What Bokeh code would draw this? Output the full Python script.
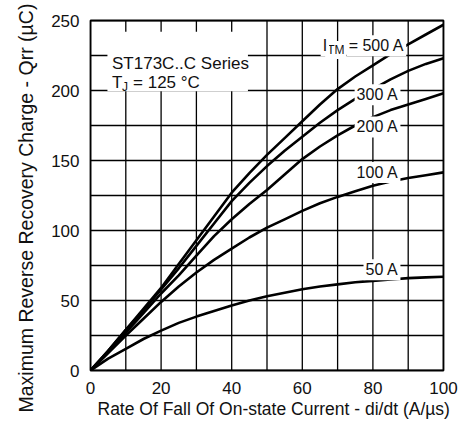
from bokeh.plotting import figure
from bokeh.models import Range1d, FixedTicker, Label, BoxAnnotation, ColumnDataSource, Title
from bokeh.embed import file_html
from bokeh.resources import INLINE

# di/dt (A/us)
didt = [0, 5, 10, 15, 20, 25, 30, 35, 40, 45, 50, 55, 60, 65, 70, 75, 80, 85, 90, 95, 100]
# Qrr (uC) for each I_TM
q_500 = [0, 14, 29, 44, 59, 76, 93, 110, 127, 141, 154, 166, 178, 190, 201, 210, 218, 226, 233, 240, 247]
q_300 = [0, 14, 29, 43, 58, 73, 89, 105, 121, 134, 146, 157, 167, 177, 186, 194, 201, 208, 214, 219, 223]
q_200 = [0, 13, 27, 41, 55, 68, 82, 96, 108, 119, 129, 140, 151, 160, 168, 175, 181, 186, 190, 194, 198]
q_100 = [0, 12.5, 25, 37, 49, 60, 70, 79, 87, 95, 102, 108, 114, 119.5, 124, 128, 132, 135, 137.5, 139.5, 141.5]
q_50 = [0, 8.5, 15.5, 22.5, 28.5, 34, 38.5, 42.5, 46.5, 50, 53, 55.5, 58, 60, 61.5, 63, 64, 65, 66, 66.5, 67]

x_ticks = [0, 20, 40, 60, 80, 100]
y_ticks = [0, 50, 100, 150, 200, 250]
x_grid = [0, 10, 20, 30, 40, 50, 60, 70, 80, 90, 100]
y_grid = [0, 25, 50, 75, 100, 125, 150, 175, 200, 225, 250]

X_MIN, X_MAX = 0, 100
Y_MIN, Y_MAX = 0, 250

FONT = "Liberation Sans"
TXT = "#111111"

p = figure(width=459, height=439, output_backend="svg", toolbar_location=None,
           x_range=Range1d(X_MIN, X_MAX), y_range=Range1d(Y_MIN, Y_MAX),
           min_border_left=90, min_border_right=16, min_border_top=20, min_border_bottom=69)

p.background_fill_color = "white"
p.border_fill_color = "white"
p.outline_line_color = "black"
p.outline_line_width = 1.8
p.grid.visible = False

for ax in (p.xaxis[0], p.yaxis[0]):
    ax.major_tick_line_color = None
    ax.minor_tick_line_color = None
    ax.major_tick_in = 0
    ax.major_tick_out = 0
    ax.minor_tick_in = 0
    ax.minor_tick_out = 0
    ax.axis_line_color = None
    ax.major_label_text_font = FONT
    ax.major_label_text_font_size = "17px"
    ax.major_label_text_color = TXT

p.xaxis.ticker = FixedTicker(ticks=x_ticks)
p.yaxis.ticker = FixedTicker(ticks=y_ticks)
p.xaxis.major_label_standoff = 11
p.yaxis.major_label_standoff = 11

# axis titles
p.add_layout(Title(text="Rate Of Fall Of On-state Current - di/dt (A/\u00b5s)", align="left",
                   offset=7, standoff=0, text_font=FONT, text_font_size="17.5px",
                   text_font_style="normal", text_color=TXT), "below")
p.add_layout(Title(text="Maximum Reverse Recovery Charge - Qrr (\u00b5C)", align="left",
                   offset=-42, standoff=23, text_font=FONT, text_font_size="19.5px",
                   text_font_style="normal", text_color=TXT), "left")

# grid lines as segments (drawn first, under the curves)
p.segment(x0=x_grid, y0=[Y_MIN] * len(x_grid), x1=x_grid, y1=[Y_MAX] * len(x_grid),
          line_color="black", line_width=1.3)
p.segment(x0=[X_MIN] * len(y_grid), y0=y_grid, x1=[X_MAX] * len(y_grid), y1=y_grid,
          line_color="black", line_width=1.3)

src = ColumnDataSource(dict(x=didt, q500=q_500, q300=q_300, q200=q_200, q100=q_100, q50=q_50))
for col in ("q500", "q300", "q200", "q100", "q50"):
    p.line("x", col, source=src, line_color="black", line_width=2.6)

# title block
p.add_layout(BoxAnnotation(left=4.8, right=44.6, bottom=199.5, top=242,
                           fill_color="white", fill_alpha=1.0, line_color=None))
p.add_layout(Label(x=6.1, y=219.5, text="ST173C..C Series", text_font=FONT,
                   text_font_size="17px", text_color=TXT, text_baseline="alphabetic"))
p.add_layout(Label(x=6.1, y=205.5, text="T", text_font=FONT,
                   text_font_size="17px", text_color=TXT, text_baseline="alphabetic"))
p.add_layout(Label(x=6.1, y=202.5, x_offset=10, text="J", text_font=FONT,
                   text_font_size="12px", text_color=TXT, text_baseline="alphabetic"))
p.add_layout(Label(x=6.1, y=205.5, x_offset=21, text="= 125 \u00b0C", text_font=FONT,
                   text_font_size="17px", text_color=TXT, text_baseline="alphabetic"))

# curve labels
def lab(x, y, text, size="16px", align="right", xo=0):
    p.add_layout(Label(x=x, y=y, x_offset=xo, text=text, text_font=FONT, text_font_size=size,
                       text_color=TXT, text_align=align, text_baseline="alphabetic",
                       background_fill_color="white", padding=2))

lab(65.2, 232.0, "= 500 A", align="left", xo=26)
lab(65.2, 229.0, "TM", size="12px", align="left", xo=4.5)
lab(65.2, 232.0, "I", align="left")
lab(87.8, 197.0, "300 A")
lab(87.8, 174.0, "200 A")
lab(87.8, 141.5, "100 A")
lab(87.8, 72.0, "50 A")

open("out.html", "w").write(file_html(p, INLINE))
